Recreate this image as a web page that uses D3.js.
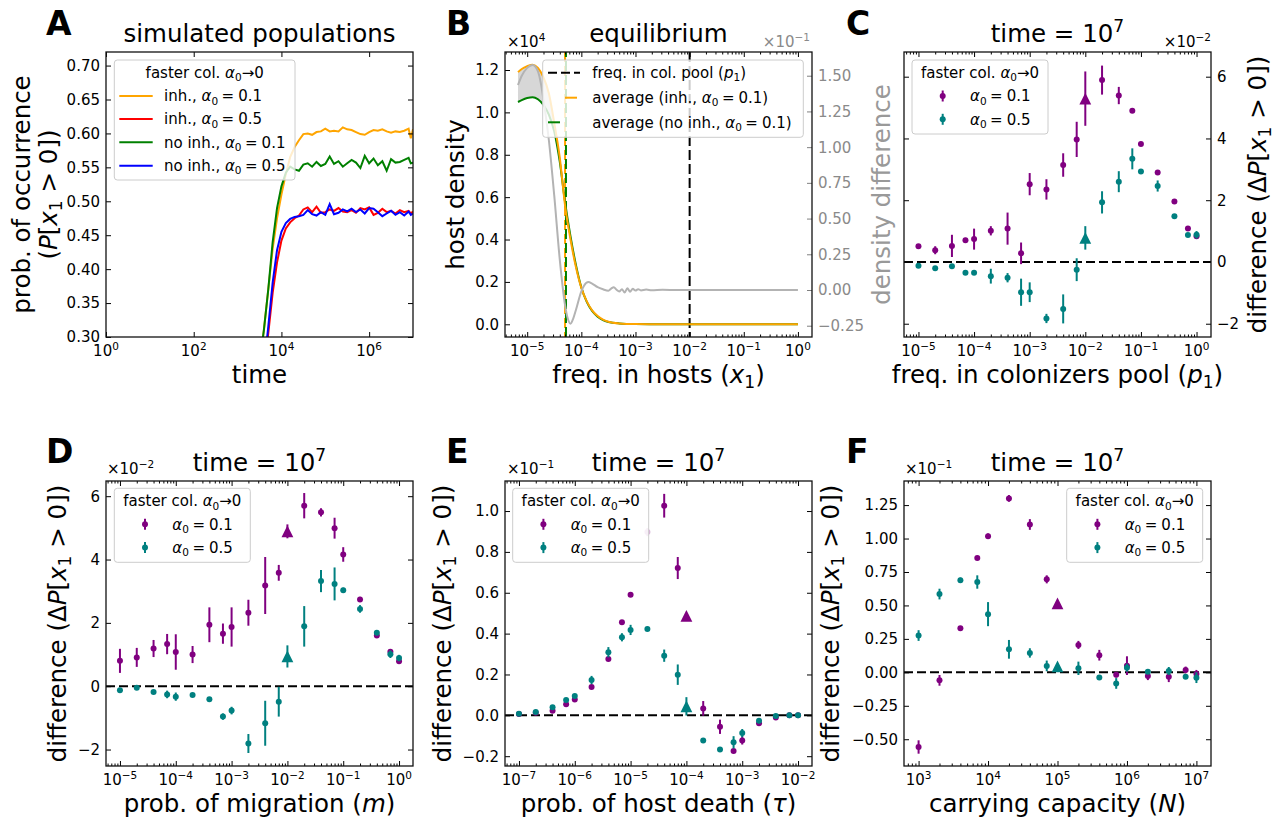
<!DOCTYPE html>
<html><head><meta charset="utf-8">
<script src="https://cdn.jsdelivr.net/npm/d3@7"></script>
<style>
body{margin:0;background:#fff;}
text{font-family:"DejaVu Sans",sans-serif;white-space:pre;}
</style></head><body>
<svg id="fig" width="1279" height="822"></svg>
<script>
// ---------------- DATA ----------------
// Panel A: simulated populations
const aTime = [3.16e3,3.98e3,5.01e3,6.31e3,7.94e3,1e4,1.26e4,1.58e4,2.00e4,2.51e4,3.16e4,3.98e4,5.01e4,6.31e4,7.94e4,
  1e5,1.26e5,1.58e5,2.00e5,2.51e5,3.16e5,3.98e5,5.01e5,6.31e5,7.94e5,
  1e6,1.26e6,1.58e6,2.00e6,2.51e6,3.16e6,3.98e6,5.01e6,6.31e6,7.94e6,8.91e6,1e7];
const aInh01 = [0.26,0.31,0.37,0.43,0.475,0.51,0.54,0.565,0.58,0.59,0.599,0.600,0.598,0.602,0.603,
  0.607,0.603,0.604,0.603,0.609,0.606,0.605,0.602,0.599,0.598,
  0.602,0.605,0.604,0.606,0.603,0.601,0.603,0.602,0.604,0.607,0.593,0.606];
const aInh05 = [0.20,0.25,0.305,0.365,0.41,0.442,0.46,0.469,0.475,0.479,0.488,0.491,0.484,0.492,0.483,
  0.484,0.488,0.486,0.490,0.485,0.484,0.487,0.483,0.490,0.488,
  0.491,0.480,0.483,0.489,0.484,0.486,0.482,0.487,0.484,0.486,0.482,0.485];
const aNoInh01 = [0.26,0.31,0.37,0.44,0.49,0.522,0.542,0.551,0.547,0.545,0.554,0.556,0.551,0.558,0.552,
  0.555,0.566,0.555,0.559,0.551,0.556,0.561,0.557,0.549,0.567,
  0.556,0.563,0.553,0.559,0.545,0.562,0.557,0.558,0.561,0.564,0.556,0.557];
const aNoInh05 = [0.20,0.255,0.315,0.38,0.428,0.455,0.468,0.474,0.477,0.478,0.480,0.487,0.481,0.479,0.484,
  0.480,0.496,0.481,0.483,0.488,0.485,0.489,0.484,0.488,0.482,
  0.490,0.489,0.484,0.478,0.482,0.486,0.480,0.484,0.479,0.485,0.480,0.482];
const aYTicks = [0.30,0.35,0.40,0.45,0.50,0.55,0.60,0.65,0.70];
const aXTicks = [1,1e2,1e4,1e6];

// Panel B: equilibrium (host density x1e4, density difference x1e-1)
const bX = [6.76e-6,7.94e-6,1e-5,1.26e-5,1.58e-5,2e-5,2.51e-5,3.16e-5,3.98e-5,5.01e-5,6.31e-5,7.94e-5,
  1e-4,1.26e-4,1.58e-4,2e-4,2.51e-4,3.16e-4,5.01e-4,1e-3,3.16e-3,1e-2,1e-1,1];
const bInh = [1.19,1.205,1.218,1.225,1.21,1.165,1.09,0.95,0.79,0.56,0.40,0.27,
  0.172,0.108,0.066,0.039,0.022,0.012,0.004,0.001,0,0,0,0];
const bNoInh = [1.049,1.058,1.068,1.072,1.062,1.035,0.99,0.91,0.77,0.575,0.415,0.28,
  0.174,0.106,0.063,0.036,0.02,0.011,0.004,0.001,0,0,0,0];
const bDiffX = [6.76e-6,7.94e-6,1e-5,1.26e-5,1.58e-5,1.78e-5,2e-5,2.51e-5,3.16e-5,3.98e-5,5.01e-5,5.62e-5,6.31e-5,7.08e-5,7.94e-5,
  1e-4,1.12e-4,1.35e-4,1.58e-4,2e-4,2.51e-4,3.16e-4,3.55e-4,3.98e-4,4.47e-4,5.01e-4,5.62e-4,6.31e-4,7.08e-4,7.94e-4,8.91e-4,
  1e-3,1.12e-3,1.26e-3,1.58e-3,2e-3,3.16e-3,1e-2,1e-1,1];
const bDiff = [1.435,1.50,1.555,1.575,1.53,1.45,1.33,1.05,0.66,0.22,-0.107,-0.20,-0.236,-0.20,-0.14,
  -0.01,0.03,0.056,0.045,0.02,0.005,-0.005,0.01,0.02,0.002,-0.01,0.006,-0.018,0.012,-0.012,0.008,
  -0.004,0.006,-0.003,0.003,-0.002,0.001,0,0,0];
const bPool = 1e-2, bAvgInh = 5.0e-5, bAvgNoInh = 5.2e-5;
const bYTicks = [0,0.2,0.4,0.6,0.8,1.0,1.2];
const bY2Ticks = [-0.25,0,0.25,0.5,0.75,1.0,1.25,1.5];

// Panel C: freq. in colonizers pool (x1e-2)
const cX = [1e-5,2e-5,4e-5,7e-5,1e-4,2e-4,4e-4,7e-4,1e-3,2e-3,4e-3,7e-3,2e-2,4e-2,7e-2,0.1,0.2,0.4,0.7,1];
const cP = [0.51,0.38,0.52,0.70,0.74,1.01,1.08,0.28,2.52,2.35,3.14,3.97,5.89,5.39,4.90,3.82,2.90,1.96,1.08,0.83];
const cPErr = [0.05,0.13,0.36,0.08,0.34,0.15,0.52,0.35,0.36,0.33,0.38,0.57,0.47,0.28,0.06,0.06,0.06,0.06,0.06,0.06];
const cT = [-0.12,-0.20,-0.14,-0.35,-0.35,-0.46,-0.51,-0.98,-0.98,-1.83,-1.52,-0.25,1.93,2.60,3.34,2.93,2.46,1.48,0.87,0.88];
const cTErr = [0.05,0.05,0.05,0.05,0.05,0.24,0.15,0.44,0.32,0.15,0.47,0.37,0.36,0.34,0.34,0.06,0.18,0.06,0.06,0.12];
const cTriX = [1e-2], cTriP = [5.29], cTriPErr = [0.88], cTriT = [0.78], cTriTErr = [0.38];
const cYTicks = [-2,0,2,4,6];

// Panel D: prob. of migration (x1e-2)
const dX = [1e-5,2e-5,4e-5,7e-5,1e-4,2e-4,4e-4,7e-4,1e-3,2e-3,4e-3,7e-3,2e-2,4e-2,7e-2,0.1,0.2,0.4,0.7,1];
const dP = [0.80,0.91,1.19,1.33,1.08,1.00,1.94,1.66,1.87,2.32,3.18,3.58,5.70,5.49,4.99,4.16,2.74,1.60,1.09,0.79];
const dPErr = [0.38,0.30,0.27,0.32,0.56,0.27,0.55,0.32,0.62,0.41,0.90,0.25,0.40,0.13,0.33,0.23,0.08,0.05,0.05,0.05];
const dT = [-0.13,-0.05,-0.18,-0.26,-0.33,-0.28,-0.41,-0.96,-0.77,-1.81,-1.17,-0.49,1.89,3.32,3.23,3.03,2.44,1.69,1.01,0.89];
const dTErr = [0.05,0.05,0.05,0.12,0.13,0.05,0.05,0.10,0.12,0.30,0.71,0.47,0.64,0.35,0.52,0.08,0.12,0.05,0.12,0.10];
const dTriX = [1e-2], dTriP = [4.89], dTriPErr = [0.22], dTriT = [0.94], dTriTErr = [0.35];
const dYTicks = [-2,0,2,4,6];

// Panel E: prob. of host death (x1e-1)
const eX = [1e-7,2e-7,4e-7,7e-7,1e-6,2e-6,4e-6,7e-6,1e-5,2e-5,4e-5,7e-5,2e-4,4e-4,7e-4,1e-3,2e-3,4e-3,7e-3,1e-2];
const eP = [0.007,0.013,0.023,0.054,0.077,0.139,0.276,0.456,0.590,null,1.026,0.721,0.034,-0.056,-0.175,-0.123,-0.039,-0.010,0.0,0.0];
const ePErr = [0.005,0.005,0.005,0.008,0.008,0.008,0.008,0.008,0.008,null,0.058,0.054,0.036,0.035,0.01,0.02,0.008,0.005,0.005,0.005];
const ePFadedX = [2e-5], ePFaded = [0.897], ePFadedErr = [0.02];
const eT = [0.008,0.016,0.039,0.075,0.095,0.173,0.309,0.382,0.418,0.423,0.292,0.199,-0.123,-0.167,-0.132,-0.087,-0.026,-0.003,0.0,0.0];
const eTErr = [0.005,0.005,0.008,0.008,0.008,0.02,0.025,0.02,0.025,0.01,0.03,0.05,0.01,0.01,0.03,0.02,0.01,0.005,0.005,0.005];
const eTriX = [1e-4], eTriP = [0.487], eTriPErr = [0.01], eTriT = [0.044], eTriTErr = [0.045];
const eYTicks = [-0.2,0,0.2,0.4,0.6,0.8,1.0];

// Panel F: carrying capacity (x1e-1)
const fX = [1e3,2e3,4e3,7e3,1e4,2e4,4e4,7e4,2e5,4e5,7e5,1e6,2e6,4e6,7e6,1e7];
const fP = [-0.558,-0.06,0.33,0.855,1.018,1.30,1.105,0.695,0.205,0.128,-0.018,0.05,-0.028,-0.033,0.018,-0.012];
const fPErr = [0.05,0.04,0.01,0.015,0.02,0.025,0.04,0.03,0.03,0.04,0.02,0.07,0.03,0.04,0.025,0.03];
const fT = [0.275,0.585,0.688,0.675,0.435,0.172,0.145,0.048,0.03,-0.038,-0.083,0.035,0.005,0.01,-0.033,-0.04];
const fTErr = [0.04,0.04,0.02,0.05,0.09,0.07,0.035,0.04,0.05,0.01,0.04,0.03,0.01,0.03,0.01,0.04];
const fTriX = [1e5], fTriP = [0.515], fTriPErr = [0.01], fTriT = [0.045], fTriTErr = [0.01];
const fYTicks = [-0.5,-0.25,0,0.25,0.5,0.75,1.0,1.25];

// ---------------- HELPERS ----------------
const svg = d3.select("#fig");
const TFS = 15, LFS = 24.5, PURPLE = "#800080", TEAL = "#008080";

function rich(sel, parts, fs) {
  let cur = 0;
  parts.forEach(p => {
    let t, m, dx = 0;
    if (typeof p === 'string') { t = p; m = ''; } else { t = p[0]; m = p[1]; dx = p[2] || 0; }
    let shift = 0, size = fs;
    if (m.includes('sub')) { shift = 0.22 * fs; size = 0.7 * fs; }
    if (m.includes('sup')) { shift = -0.42 * fs; size = 0.7 * fs; }
    const ts = sel.append('tspan').text(t).attr('font-size', size);
    if (m.includes('i')) ts.attr('font-style', 'italic');
    if (dx) ts.attr('dx', dx);
    if (shift !== cur) { ts.attr('dy', shift - cur); cur = shift; }
  });
  return sel;
}
function txt(x, y, parts, fs, anchor, color, rot, weight) {
  const t = svg.append('text')
    .attr('transform', rot ? `translate(${x},${y}) rotate(-90)` : `translate(${x},${y})`)
    .attr('text-anchor', anchor || 'start').attr('font-size', fs).attr('fill', color || '#000');
  if (weight) t.attr('font-weight', weight);
  rich(t, parts, fs);
  return t;
}
function minorTicks(lo, hi) {
  const out = [];
  for (let d = Math.floor(Math.log10(lo)); d <= Math.ceil(Math.log10(hi)); d++)
    for (let k = 2; k <= 9; k++) { const v = k * Math.pow(10, d); if (v >= lo && v <= hi) out.push(v); }
  return out;
}
function panel(name, l, r, t, b, xdom, ydom) {
  const x = d3.scaleLog().domain(xdom).range([l, r]);
  const y = d3.scaleLinear().domain(ydom).range([b, t]);
  svg.append('clipPath').attr('id', 'clip' + name).append('rect')
    .attr('x', l).attr('y', t).attr('width', r - l).attr('height', b - t);
  const g = svg.append('g');
  const plot = g.append('g').attr('clip-path', `url(#clip${name})`);
  return { x, y, g, plot, l, r, t, b };
}
function tickAxis(P, axis, tr, vals, size, color) {
  const a = P.g.append('g').attr('transform', tr)
    .call(axis.tickValues(vals).tickSize(-size).tickFormat(''));
  a.select('.domain').remove();
  a.selectAll('line').attr('stroke', color || '#000').attr('stroke-width', 1);
}
function xAxes(P, majors, minor) {
  tickAxis(P, d3.axisBottom(P.x), `translate(0,${P.b})`, majors, 5);
  tickAxis(P, d3.axisTop(P.x), `translate(0,${P.t})`, majors, 5);
  if (minor) {
    const m = minorTicks(P.x.domain()[0], P.x.domain()[1]);
    tickAxis(P, d3.axisBottom(P.x), `translate(0,${P.b})`, m, 2.5);
    tickAxis(P, d3.axisTop(P.x), `translate(0,${P.t})`, m, 2.5);
  }
  majors.forEach(v => {
    const e = Math.round(Math.log10(v));
    txt(P.x(v), P.b + 19, ['10', [(e < 0 ? '\u2212' : '') + Math.abs(e), 'sup']], TFS, 'middle');
  });
}
function yAxes(P, ticks, fmt, labelSide) {
  tickAxis(P, d3.axisLeft(P.y), `translate(${P.l},0)`, ticks, 5);
  tickAxis(P, d3.axisRight(P.y), `translate(${P.r},0)`, ticks, 5);
  ticks.forEach(v => {
    if (labelSide === 'left') txt(P.l - 6, P.y(v) + 0.36 * TFS, [fmt(v)], TFS, 'end');
    else txt(P.r + 6, P.y(v) + 0.36 * TFS, [fmt(v)], TFS, 'start');
  });
}
function frame(P) {
  P.g.append('rect').attr('x', P.l).attr('y', P.t).attr('width', P.r - P.l).attr('height', P.b - P.t)
    .attr('fill', 'none').attr('stroke', '#111').attr('stroke-width', 1.3);
}
function zeroLine(P) {
  P.plot.append('line').attr('x1', P.l).attr('x2', P.r).attr('y1', P.y(0)).attr('y2', P.y(0))
    .attr('stroke', '#000').attr('stroke-width', 2).attr('stroke-dasharray', '9,4');
}
function errPoints(P, xs, ys, es, color, shape, opacity) {
  const idx = xs.map((d, i) => i).filter(i => ys[i] !== null);
  const g = P.g.append('g').attr('opacity', opacity || 1);
  g.selectAll('line').data(idx).join('line')
    .attr('x1', i => P.x(xs[i])).attr('x2', i => P.x(xs[i]))
    .attr('y1', i => P.y(ys[i] - es[i])).attr('y2', i => P.y(ys[i] + es[i]))
    .attr('stroke', color).attr('stroke-width', 2);
  if (shape === 'tri') {
    const h = 5.9;
    g.selectAll('path').data(idx).join('path')
      .attr('d', i => { const cx = P.x(xs[i]), cy = P.y(ys[i]);
        return `M${cx},${cy - h}L${cx + h},${cy + h}L${cx - h},${cy + h}Z`; })
      .attr('fill', color);
  } else {
    g.selectAll('circle').data(idx).join('circle')
      .attr('cx', i => P.x(xs[i])).attr('cy', i => P.y(ys[i])).attr('r', 3).attr('fill', color);
  }
}
function legendBox(x, y, w, h) {
  svg.append('rect').attr('x', x).attr('y', y).attr('width', w).attr('height', h).attr('rx', 3)
    .attr('fill', '#fff').attr('fill-opacity', 0.8).attr('stroke', '#cccccc').attr('stroke-width', 1);
}
const legTitle = ['faster col. ', ['\u03b1', 'i'], ['0', 'sub'], '\u21920'];
const alphaLab = v => [['\u03b1', 'i'], ['0', 'sub'], ['=', '', 3.5], [v, '', 4]];
function errLegend(x, y) {
  legendBox(x, y, 136, 74);
  txt(x + 68, y + 12.7 + 0.36 * TFS, legTitle, TFS, 'middle');
  [[PURPLE, '0.1', 36], [TEAL, '0.5', 59.3]].forEach(([c, v, dy]) => {
    const cy = y + dy;
    svg.append('line').attr('x1', x + 30.7).attr('x2', x + 30.7).attr('y1', cy - 5.5).attr('y2', cy + 5.5)
      .attr('stroke', c).attr('stroke-width', 2);
    svg.append('circle').attr('cx', x + 30.7).attr('cy', cy).attr('r', 3).attr('fill', c);
    txt(x + 58, cy + 0.36 * TFS, alphaLab(v), TFS, 'start');
  });
}
const deltaLabel = ['difference (\u0394', ['P', 'i'], '[', ['x', 'i'], ['1', 'sub'], ' > 0])'];
function titleTime(P, y) {
  txt((P.l + P.r) / 2, y, ['time = 10', ['7', 'sup']], LFS, 'middle');
}
function letter(x, y, s) { txt(x, y, [s], 33, 'start', '#000', false, 'bold'); }

// ---------------- PANEL A ----------------
{
  const P = panel('A', 106, 413, 52, 337, [1, 1e7], [0.30, 0.72]);
  const line = ys => d3.line().x((d, i) => P.x(aTime[i])).y((d, i) => P.y(ys[i]))(ys);
  [[aInh01, 'orange'], [aInh05, 'red'], [aNoInh01, 'green'], [aNoInh05, 'blue']].forEach(([ys, c]) => {
    P.plot.append('path').attr('d', line(ys)).attr('fill', 'none').attr('stroke', c).attr('stroke-width', 2);
  });
  xAxes(P, aXTicks, false);
  yAxes(P, aYTicks, d3.format('.2f'), 'left');
  legendBox(114.3, 60, 180.7, 120);
  txt(204.7, 72.7 + 0.36 * TFS, legTitle, TFS, 'middle');
  [['orange', 'inh., ', '0.1', 96], ['red', 'inh., ', '0.5', 119], ['green', 'no inh., ', '0.1', 142.3], ['blue', 'no inh., ', '0.5', 165.7]]
    .forEach(([c, pre, v, cy]) => {
      svg.append('line').attr('x1', 119.3).attr('x2', 152.7).attr('y1', cy).attr('y2', cy).attr('stroke', c).attr('stroke-width', 2);
      txt(164, cy + 0.36 * TFS, [pre].concat(alphaLab(v)), TFS, 'start');
    });
  frame(P);
  txt(259.5, 42, ['simulated populations'], LFS, 'middle');
  txt(259.5, 383, ['time'], LFS, 'middle');
  txt(21 + 0.35 * LFS, 194.5, ['prob. of occurrence'], LFS, 'middle', '#000', true);
  txt(48 + 0.35 * LFS, 194.5, ['(', ['P', 'i'], '[', ['x', 'i'], ['1', 'sub'], ' > 0])'], LFS, 'middle', '#000', true);
  letter(46, 35, 'A');
}

// ---------------- PANEL B ----------------
{
  const P = panel('B', 505, 812, 52, 337, [Math.pow(10, -5.41), Math.pow(10, 0.26)], [-0.06, 1.285]);
  const y2 = d3.scaleLinear().domain([-0.329, 1.666]).range([337, 52]);
  const area = d3.area().x((d, i) => P.x(bX[i])).y0((d, i) => P.y(bNoInh[i])).y1((d, i) => P.y(bInh[i])).curve(d3.curveMonotoneX);
  P.plot.append('path').attr('d', area(bX)).attr('fill', '#d3d3d3').attr('fill-opacity', 0.9);
  P.plot.append('line').attr('x1', P.x(bPool)).attr('x2', P.x(bPool)).attr('y1', P.t).attr('y2', P.b)
    .attr('stroke', '#000').attr('stroke-width', 2).attr('stroke-dasharray', '10,4');
  P.plot.append('line').attr('x1', P.x(bAvgInh)).attr('x2', P.x(bAvgInh)).attr('y1', P.t).attr('y2', P.b)
    .attr('stroke', 'orange').attr('stroke-width', 2).attr('stroke-dasharray', '10,4');
  P.plot.append('line').attr('x1', P.x(bAvgNoInh)).attr('x2', P.x(bAvgNoInh)).attr('y1', P.b).attr('y2', P.t)
    .attr('stroke', 'green').attr('stroke-width', 2).attr('stroke-dasharray', '10,4');
  const ln = (xs, ys, ys2) => d3.line().x((d, i) => P.x(xs[i])).y((d, i) => ys2(ys[i])).curve(d3.curveMonotoneX)(xs);
  P.plot.append('path').attr('d', ln(bX, bNoInh, P.y)).attr('fill', 'none').attr('stroke', 'green').attr('stroke-width', 2);
  P.plot.append('path').attr('d', ln(bX, bInh, P.y)).attr('fill', 'none').attr('stroke', 'orange').attr('stroke-width', 2);
  P.plot.append('path').attr('d', ln(bDiffX, bDiff, y2)).attr('fill', 'none').attr('stroke', '#b3b3b3').attr('stroke-width', 2);
  xAxes(P, [1e-5, 1e-4, 1e-3, 1e-2, 1e-1, 1], true);
  tickAxis(P, d3.axisLeft(P.y), `translate(${P.l},0)`, bYTicks, 5);
  bYTicks.forEach(v => txt(P.l - 6, P.y(v) + 0.36 * TFS, [d3.format('.1f')(v)], TFS, 'end'));
  tickAxis(P, d3.axisRight(y2), `translate(${P.r},0)`, bY2Ticks, 5, '#808080');
  bY2Ticks.forEach(v => txt(P.r + 6, y2(v) + 0.36 * TFS, [d3.format('.2f')(v)], TFS, 'start', '#8a8a8a'));
  // legend
  legendBox(542.7, 60, 260.6, 77.3);
  svg.append('line').attr('x1', 548).attr('x2', 580).attr('y1', 72.7).attr('y2', 72.7).attr('stroke', '#000').attr('stroke-width', 2).attr('stroke-dasharray', '9,4');
  svg.append('line').attr('x1', 565).attr('x2', 577).attr('y1', 97.7).attr('y2', 97.7).attr('stroke', 'orange').attr('stroke-width', 2);
  svg.append('line').attr('x1', 548).attr('x2', 560).attr('y1', 122.3).attr('y2', 122.3).attr('stroke', 'green').attr('stroke-width', 2);
  txt(592.3, 72.7 + 0.36 * TFS, ['freq. in col. pool (', ['p', 'i'], ['1', 'sub'], ')'], TFS);
  txt(592.3, 97.7 + 0.36 * TFS, ['average (inh., '].concat(alphaLab('0.1')).concat([')']), TFS);
  txt(592.3, 122.3 + 0.36 * TFS, ['average (no inh., '].concat(alphaLab('0.1')).concat([')']), TFS);
  frame(P);
  txt(507, 47, ['\u00d710', ['4', 'sup']], TFS, 'start');
  txt(810, 47, ['\u00d710', ['\u22121', 'sup']], TFS, 'end', '#8a8a8a');
  txt(658.5, 42, ['equilibrium'], LFS, 'middle');
  txt(658.5, 383, ['freq. in hosts (', ['x', 'i'], ['1', 'sub'], ')'], LFS, 'middle');
  txt(455 + 0.35 * LFS, 194.5, ['host density'], LFS, 'middle', '#000', true);
  txt(881 + 0.35 * LFS, 194.5, ['density difference'], LFS, 'middle', '#999999', true);
  letter(446, 35, 'B');
}

// ---------------- PANEL C ----------------
{
  const P = panel('C', 904, 1211, 52, 337, [Math.pow(10, -5.26), Math.pow(10, 0.26)], [-2.43, 6.80]);
  zeroLine(P);
  errPoints(P, cX, cP, cPErr, PURPLE, 'dot');
  errPoints(P, cTriX, cTriP, cTriPErr, PURPLE, 'tri');
  errPoints(P, cX, cT, cTErr, TEAL, 'dot');
  errPoints(P, cTriX, cTriT, cTriTErr, TEAL, 'tri');
  xAxes(P, [1e-5, 1e-4, 1e-3, 1e-2, 1e-1, 1], true);
  yAxes(P, cYTicks, d3.format('d'), 'right');
  errLegend(912, 60);
  frame(P);
  txt(1211, 47, ['\u00d710', ['\u22122', 'sup']], TFS, 'end');
  titleTime(P, 42);
  txt(1057.5, 383, ['freq. in colonizers pool (', ['p', 'i'], ['1', 'sub'], ')'], LFS, 'middle');
  txt(1257 + 0.35 * LFS, 194.5, deltaLabel, LFS, 'middle', '#000', true);
  letter(846, 35, 'C');
}

// ---------------- PANEL D ----------------
{
  const P = panel('D', 106, 413, 481, 766, [Math.pow(10, -5.25), Math.pow(10, 0.25)], [-2.52, 6.48]);
  zeroLine(P);
  errPoints(P, dX, dP, dPErr, PURPLE, 'dot');
  errPoints(P, dTriX, dTriP, dTriPErr, PURPLE, 'tri');
  errPoints(P, dX, dT, dTErr, TEAL, 'dot');
  errPoints(P, dTriX, dTriT, dTriTErr, TEAL, 'tri');
  xAxes(P, [1e-5, 1e-4, 1e-3, 1e-2, 1e-1, 1], true);
  yAxes(P, dYTicks, d3.format('d'), 'left');
  errLegend(114.3, 488.3);
  frame(P);
  txt(107, 474, ['\u00d710', ['\u22122', 'sup']], TFS, 'start');
  titleTime(P, 471);
  txt(259.5, 812, ['prob. of migration (', ['m', 'i'], ')'], LFS, 'middle');
  txt(57 + 0.35 * LFS, 623.5, deltaLabel, LFS, 'middle', '#000', true);
  letter(46, 463, 'D');
}

// ---------------- PANEL E ----------------
{
  const P = panel('E', 505, 812, 481, 766, [Math.pow(10, -7.25), Math.pow(10, -1.75)], [-0.248, 1.147]);
  zeroLine(P);
  errPoints(P, eX, eP, ePErr, PURPLE, 'dot');
  errPoints(P, ePFadedX, ePFaded, ePFadedErr, PURPLE, 'dot', 0.3);
  errPoints(P, eTriX, eTriP, eTriPErr, PURPLE, 'tri');
  errPoints(P, eX, eT, eTErr, TEAL, 'dot');
  errPoints(P, eTriX, eTriT, eTriTErr, TEAL, 'tri');
  xAxes(P, [1e-7, 1e-6, 1e-5, 1e-4, 1e-3, 1e-2], true);
  yAxes(P, eYTicks, d3.format('.1f'), 'left');
  errLegend(512.7, 488.3);
  frame(P);
  txt(507, 474, ['\u00d710', ['\u22121', 'sup']], TFS, 'start');
  titleTime(P, 471);
  txt(658.5, 812, ['prob. of host death (', ['\u03c4', 'i'], ')'], LFS, 'middle');
  txt(442 + 0.35 * LFS, 623.5, deltaLabel, LFS, 'middle', '#000', true);
  letter(446, 463, 'E');
}

// ---------------- PANEL F ----------------
{
  const P = panel('F', 904, 1211, 481, 766, [Math.pow(10, 2.79), Math.pow(10, 7.21)], [-0.70, 1.43]);
  zeroLine(P);
  errPoints(P, fX, fP, fPErr, PURPLE, 'dot');
  errPoints(P, fTriX, fTriP, fTriPErr, PURPLE, 'tri');
  errPoints(P, fX, fT, fTErr, TEAL, 'dot');
  errPoints(P, fTriX, fTriT, fTriTErr, TEAL, 'tri');
  xAxes(P, [1e3, 1e4, 1e5, 1e6, 1e7], true);
  yAxes(P, fYTicks, d3.format('.2f'), 'left');
  errLegend(1066.7, 488.3);
  frame(P);
  txt(905, 474, ['\u00d710', ['\u22121', 'sup']], TFS, 'start');
  titleTime(P, 471);
  txt(1057.5, 812, ['carrying capacity (', ['N', 'i'], ')'], LFS, 'middle');
  txt(830 + 0.35 * LFS, 623.5, deltaLabel, LFS, 'middle', '#000', true);
  letter(846, 463, 'F');
}
</script>
</body></html>
